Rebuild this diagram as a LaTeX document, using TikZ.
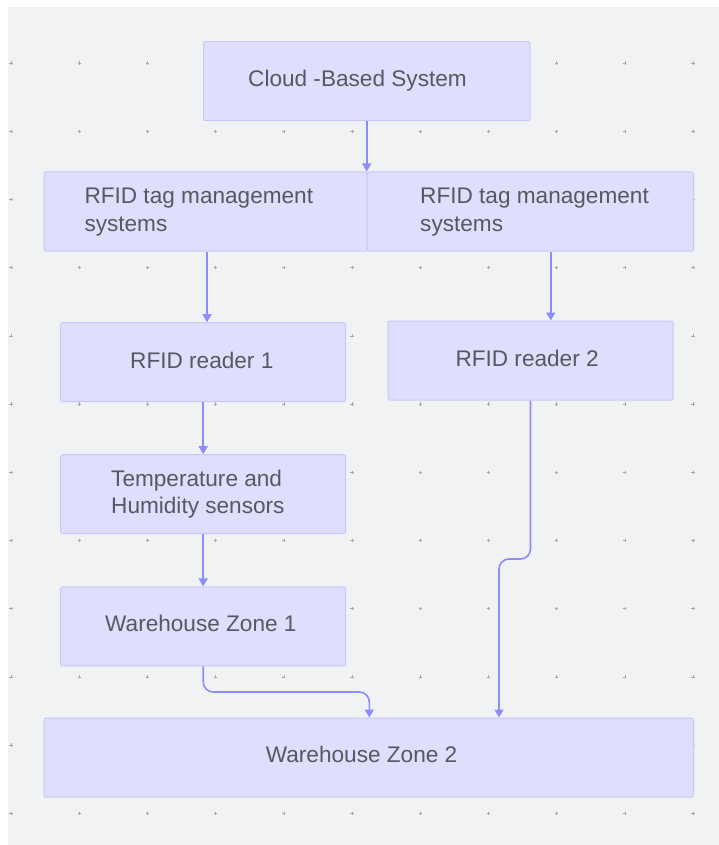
\documentclass[tikz,border=0pt]{standalone}
\usepackage{fontspec}
\setmainfont{Liberation Sans}
\usetikzlibrary{arrows.meta}

\definecolor{canvas}{RGB}{241,242,244}
\definecolor{boxfill}{RGB}{222,222,253}
\definecolor{boxline}{RGB}{200,200,248}
\definecolor{flow}{RGB}{140,140,250}
\definecolor{ink}{RGB}{88,88,98}
\definecolor{gridmark}{RGB}{165,165,170}

\tikzset{
  stepbox/.style={draw=boxline, fill=boxfill, line width=1pt, rounded corners=2pt,
    rectangle, inner sep=0pt, minimum height=79pt},
  boxtext/.style={text=ink, inner sep=0pt, anchor=base west, align=left,
    font=\fontsize{22.6}{27.3}\selectfont},
  flowline/.style={draw=flow, line width=1.6pt, rounded corners=10pt,
    -{Triangle[width=9pt,length=8pt]}},
}

\begin{document}
\begin{tikzpicture}[x=1pt,y=-1pt]
\useasboundingbox (0,0) rectangle (719,845);
\fill[white] (0,0) rectangle (719,845);
\fill[canvas] (8,7) rectangle (719,845);

% dotted grid of small plus marks
\foreach \i in {0,...,10}{
  \foreach \j in {0,...,11}{
    \draw[gridmark, line width=0.6pt]
      ({11+68.2*\i-1.6},{63+68.2*\j}) -- ++(3.2,0)
      ({11+68.2*\i},{63+68.2*\j-1.6}) -- ++(0,3.2);
  }
}

% boxes
\node[stepbox, minimum width=326.5pt] (cloud)   at (366.75,81.25) {};
\node[stepbox, minimum width=324pt]   (mgmtL)   at (206,211.5) {};
\node[stepbox, minimum width=326.5pt] (mgmtR)   at (530.25,211.5) {};
\node[stepbox, minimum width=285pt]   (reader1) at (203.2,362.2) {};
\node[stepbox, minimum width=285pt]   (reader2) at (530.5,360.5) {};
\node[stepbox, minimum width=285pt]   (sensors) at (203.2,494.2) {};
\node[stepbox, minimum width=285pt]   (zone1)   at (203.2,626.35) {};
\node[stepbox, minimum width=649.5pt] (zone2)   at (368.75,757.5) {};

% labels (multi-line labels are anchored at the baseline of their last line)
\node[boxtext] (cloudT)   at (248,86.7)   {Cloud -Based System};
\node[boxtext] (mgmtLT)   at (84.3,231)   {RFID tag management\\systems};
\node[boxtext] (mgmtRT)   at (420,231)    {RFID tag management\\systems};
\node[boxtext] (reader1T) at (130,368.3)  {RFID reader 1};
\node[boxtext] (reader2T) at (455.3,366)  {RFID reader 2};
\node[boxtext] (sensorsT) at (111,513.3)  {Temperature and\\Humidity sensors};
\node[boxtext] (zone1T)   at (105,631.7)  {Warehouse Zone 1};
\node[boxtext] (zone2T)   at (265.7,762.7) {Warehouse Zone 2};

% connectors
\coordinate (j1) at (369.3,692);
\coordinate (j2) at (499,559);
\draw[flowline] (cloud.south) -- (cloud.south |- mgmtL.north);
\draw[flowline] ([xshift=1pt]mgmtL.south) -- ([xshift=1pt]mgmtL.south |- reader1.north);
\draw[flowline] ([xshift=20.5pt]mgmtR.south) -- ([xshift=20.5pt]mgmtR.south |- reader2.north);
\draw[flowline] (reader1.south) -- (sensors.north);
\draw[flowline] (sensors.south) -- (zone1.north);
\draw[flowline] (zone1.south) |- (j1) -- (j1 |- zone2.north);
\draw[flowline] (reader2.south) |- (j2) -- (j2 |- zone2.north);
\end{tikzpicture}
\end{document}
